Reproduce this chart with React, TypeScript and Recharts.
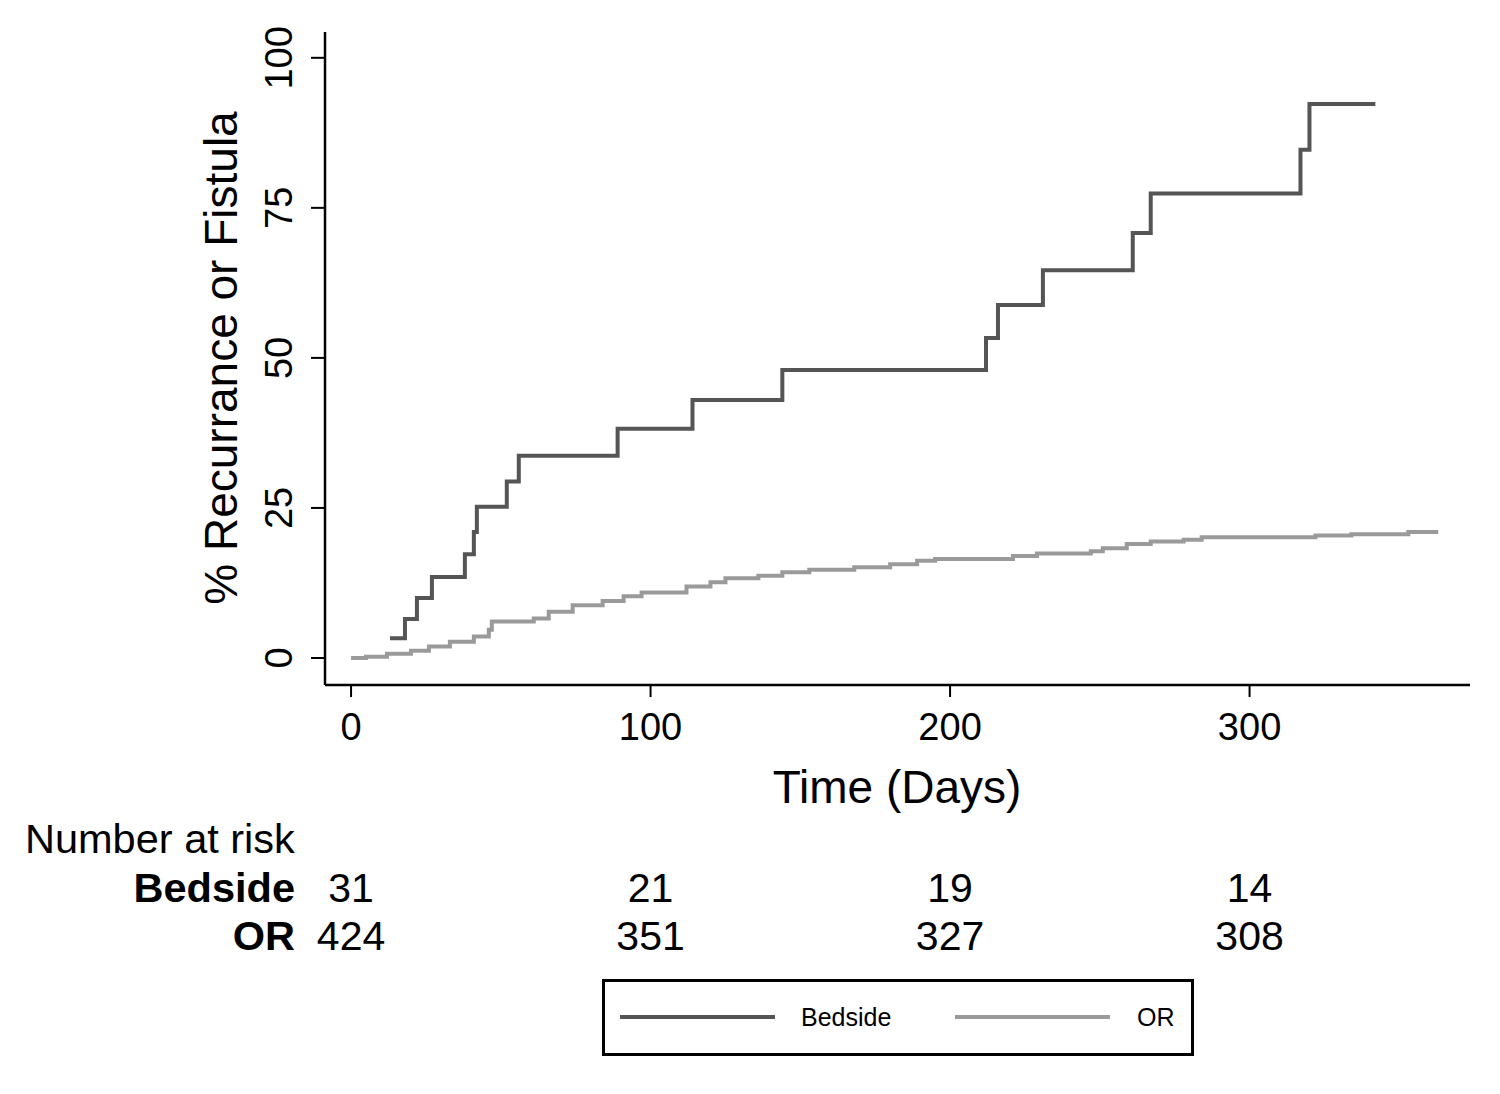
import React from "react";
import { Legend, Line, LineChart, XAxis, YAxis } from "recharts";

// Kaplan-Meier style cumulative incidence
const bedsideDays = [13, 18, 22, 27, 38, 41, 42, 52, 56, 89, 114, 144, 212, 216, 231, 261, 267, 317, 320, 342];
const bedsidePct = [3.3, 6.5, 10, 13.5, 17.3, 21, 25.2, 29.4, 33.7, 38.2, 43, 48, 53.3, 58.8, 64.6, 70.8, 77.4, 84.7, 92.3, 92.3];

const orDays = [
  0, 5, 12, 20, 26, 33, 41, 46, 47, 61, 66, 74, 84, 91, 97, 112, 120, 125, 136, 144, 153, 168, 180, 189, 195, 221,
  229, 247, 251, 259, 267, 278, 284, 322, 334, 353, 363,
];
const orPct = [
  0, 0.2, 0.7, 1.2, 1.9, 2.7, 3.6, 4.7, 6.1, 6.6, 7.7, 8.8, 9.5, 10.3, 10.9, 11.9, 12.6, 13.3, 13.7, 14.3, 14.7, 15.1,
  15.6, 16.2, 16.5, 17, 17.4, 17.8, 18.3, 19, 19.4, 19.7, 20.1, 20.4, 20.6, 21, 21,
];

const xTicks = [0, 100, 200, 300];
const yTicks = [0, 25, 50, 75, 100];
const bedsideAtRisk = [31, 21, 19, 14];
const orAtRisk = [424, 351, 327, 308];

const bedsideData = bedsideDays.map((day, i) => ({ day, pct: bedsidePct[i] }));
const orData = orDays.map((day, i) => ({ day, pct: orPct[i] }));

const font = "'Liberation Sans', Arial, Helvetica, sans-serif";
const BEDSIDE = "#555555";
const OR = "#9a9a9a";

function XTick({ x, y, payload, index }: any) {
  return (
    <g fontFamily={font} fill="#000" textAnchor="middle">
      <text x={x} y={y + 41} fontSize={38}>
        {payload.value}
      </text>
      <text x={x} y={y + 203} fontSize={41}>
        {bedsideAtRisk[index]}
      </text>
      <text x={x} y={y + 251} fontSize={41}>
        {orAtRisk[index]}
      </text>
    </g>
  );
}

function YTick({ x, y, payload }: any) {
  return (
    <text transform={`translate(${x - 17},${y}) rotate(-90)`} textAnchor="middle" fontSize={38} fontFamily={font} fill="#000">
      {payload.value}
    </text>
  );
}

function LegendBox({ payload }: any) {
  const items = payload || [];
  const slots = [
    { x1: 18, x2: 173, tx: 199 },
    { x1: 353, x2: 508, tx: 535 },
  ];
  return (
    <svg width={592} height={77}>
      <rect x={1.5} y={1.5} width={589} height={74} fill="#fff" stroke="#000" strokeWidth={3} />
      {items.map((entry: any, i: number) => (
        <g key={entry.value}>
          <line x1={slots[i].x1} x2={slots[i].x2} y1={38} y2={38} stroke={entry.color} strokeWidth={4} />
          <text x={slots[i].tx} y={47} fontSize={25} fontFamily={font} fill="#000">
            {entry.value}
          </text>
        </g>
      ))}
    </svg>
  );
}

export default function App() {
  return (
    <div style={{ position: "absolute", left: 0, top: 0, width: 1500, height: 1094, background: "#fff" }}>
      <LineChart width={1500} height={1094} margin={{ top: 32, right: 30, left: 265, bottom: 349 }}>
        <XAxis
          dataKey="day"
          type="number"
          domain={[-8.7, 373.6]}
          allowDataOverflow
          ticks={xTicks}
          height={60}
          tickSize={12}
          tick={<XTick />}
          stroke="#000"
          axisLine={{ stroke: "#000", strokeWidth: 2.5 }}
          tickLine={{ stroke: "#000", strokeWidth: 2 }}
          label={{
            content: () => (
              <text x={897} y={803} textAnchor="middle" fontSize={46} fontFamily={font} fill="#000">
                Time (Days)
              </text>
            ),
          }}
        />
        <YAxis
          type="number"
          domain={[-4.5, 104.3]}
          allowDataOverflow
          ticks={yTicks}
          width={60}
          tickSize={14}
          tick={<YTick />}
          stroke="#000"
          axisLine={{ stroke: "#000", strokeWidth: 2.5 }}
          tickLine={{ stroke: "#000", strokeWidth: 2 }}
          label={{
            content: () => (
              <text transform="translate(237,358) rotate(-90)" textAnchor="middle" fontSize={46} fontFamily={font} fill="#000">
                % Recurrance or Fistula
              </text>
            ),
          }}
        />
        <Line
          data={bedsideData}
          dataKey="pct"
          name="Bedside"
          type="stepAfter"
          stroke={BEDSIDE}
          strokeWidth={4}
          dot={false}
          activeDot={false}
          isAnimationActive={false}
        />
        <Line
          data={orData}
          dataKey="pct"
          name="OR"
          type="stepAfter"
          stroke={OR}
          strokeWidth={4}
          dot={false}
          activeDot={false}
          isAnimationActive={false}
        />
        <Legend
          layout="horizontal"
          verticalAlign="middle"
          align="center"
          content={<LegendBox />}
          wrapperStyle={{ left: 602, top: 979, width: 592, height: 77 }}
        />
      </LineChart>
      <svg width={1500} height={1094} style={{ position: "absolute", left: 0, top: 0, pointerEvents: "none" }}>
        <g fontFamily={font} fill="#000">
          <text x={25} y={853} fontSize={41.5}>
            Number at risk
          </text>
          <text x={295} y={902} textAnchor="end" fontWeight="bold" fontSize={41.5}>
            Bedside
          </text>
          <text x={295} y={950} textAnchor="end" fontWeight="bold" fontSize={41.5}>
            OR
          </text>
        </g>
      </svg>
    </div>
  );
}
